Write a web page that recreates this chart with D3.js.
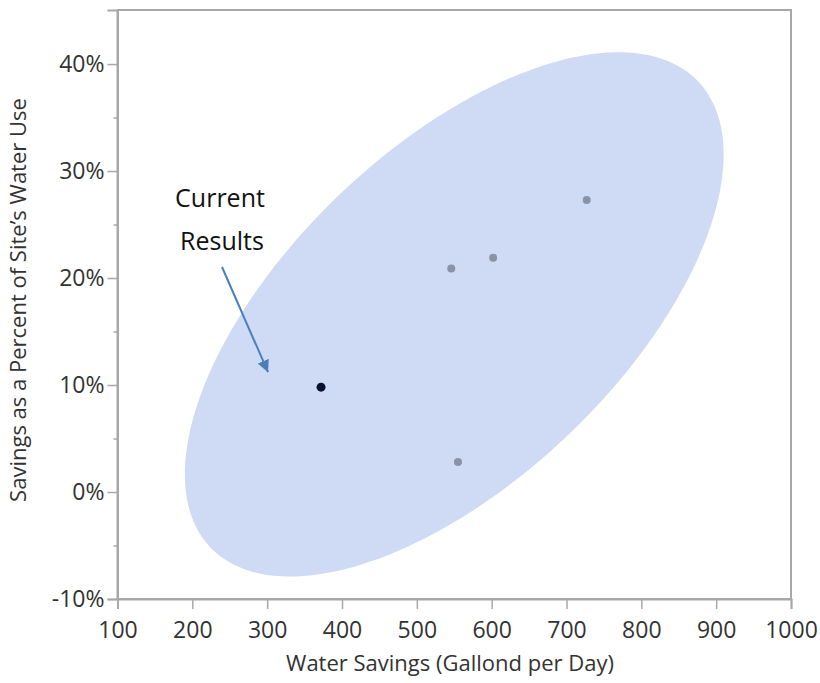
<!DOCTYPE html>
<html>
<head>
<meta charset="utf-8">
<script src="https://cdn.jsdelivr.net/npm/d3@7"></script>
<style>
  body { margin: 0; background: #fff; }
  .tick text { font-family: "Open Sans", sans-serif; font-size: 23px; fill: #333; }
  .title { font-family: "Open Sans", sans-serif; font-size: 22px; fill: #333; }
  .note { font-family: "Open Sans", sans-serif; font-size: 25px; fill: #111; }
</style>
</head>
<body>
<div id="chart"></div>
<script>
// sites: water savings (gallons/day) and savings as share of site's water use
const savings = [372, 546, 602, 727, 555];
const percent = [0.098, 0.209, 0.219, 0.273, 0.028];
const isCurrent = [true, false, false, false, false];

// density ellipse: center, spread along each axis, correlation
const ellipseCenter = [550, 0.166];
const ellipseSpread = [360, 0.245];
const ellipseCorr = 0.61;

const xTicks = [100, 200, 300, 400, 500, 600, 700, 800, 900, 1000];
const yTicks = [-0.1, 0, 0.1, 0.2, 0.3, 0.4];
const yMinorTicks = [-0.05, 0.05, 0.15, 0.25, 0.35];

const width = 820, height = 683;
const plotLeft = 117.5, plotRight = 791, plotTop = 10, plotBottom = 599;

const svg = d3.select("#chart").append("svg")
  .attr("width", width)
  .attr("height", height);

const x = d3.scaleLinear().domain([100, 1000]).range([plotLeft, plotRight]);
const y = d3.scaleLinear().domain([-0.1, 0.4505]).range([plotBottom, plotTop]);

// ellipse outline from its parameters
const phi = Math.acos(ellipseCorr);
const ellipsePts = d3.range(0, 361, 2).map(deg => {
  const t = deg * Math.PI / 180;
  return [
    x(ellipseCenter[0] + ellipseSpread[0] * Math.cos(t)),
    y(ellipseCenter[1] + ellipseSpread[1] * Math.cos(t - phi))
  ];
});

svg.append("path")
  .attr("d", d3.line().curve(d3.curveLinearClosed)(ellipsePts))
  .attr("fill", "#cfdaf5");

// frame
svg.append("rect")
  .attr("x", plotLeft).attr("y", plotTop)
  .attr("width", plotRight - plotLeft).attr("height", plotBottom - plotTop)
  .attr("fill", "none")
  .attr("stroke", "#a8a8a8")
  .attr("stroke-width", 2);

svg.append("g")
  .attr("transform", `translate(0,${plotBottom})`)
  .call(d3.axisBottom(x).tickValues(xTicks).tickSize(10).tickPadding(13).tickFormat(d3.format("d")));

const pct = d => Math.round(d * 100) + "%";
svg.append("g")
  .attr("transform", `translate(${plotLeft},0)`)
  .call(d3.axisLeft(y).tickValues(yTicks).tickSize(10).tickPadding(3).tickFormat(pct));

svg.append("g")
  .attr("transform", `translate(${plotLeft},0)`)
  .call(d3.axisLeft(y).tickValues(yMinorTicks).tickSize(4).tickFormat(""))
  .call(g => g.select(".domain").remove());

svg.selectAll(".domain").attr("stroke", "#a8a8a8").attr("stroke-width", 2);
svg.selectAll(".tick line").attr("stroke", "#a8a8a8").attr("stroke-width", 1.5);

// axis titles
svg.append("text")
  .attr("class", "title")
  .attr("x", 450)
  .attr("y", 671)
  .attr("text-anchor", "middle")
  .text("Water Savings (Gallond per Day)");

svg.append("text")
  .attr("class", "title")
  .attr("transform", `translate(26,300) rotate(-90)`)
  .attr("text-anchor", "middle")
  .text("Savings as a Percent of Site\u2019s Water Use");

// points
const pts = savings.map((v, i) => ({ v, p: percent[i], cur: isCurrent[i] }));
svg.selectAll("circle.pt")
  .data(pts)
  .join("circle")
  .attr("class", "pt")
  .attr("cx", d => x(d.v))
  .attr("cy", d => y(d.p))
  .attr("r", d => d.cur ? 4.5 : 4)
  .attr("fill", d => d.cur ? "#0b1230" : "#8a92a8");

// annotation
const cur = pts.find(d => d.cur);
svg.append("text").attr("class", "note")
  .attr("x", 220).attr("y", 207).attr("text-anchor", "middle").text("Current");
svg.append("text").attr("class", "note")
  .attr("x", 222).attr("y", 250).attr("text-anchor", "middle").text("Results");

svg.append("defs").append("marker")
  .attr("id", "arrow")
  .attr("viewBox", "0 0 10 10")
  .attr("refX", 10).attr("refY", 5)
  .attr("markerWidth", 6).attr("markerHeight", 6)
  .attr("orient", "auto")
  .append("path")
  .attr("d", "M0,0 L10,5 L0,10 z")
  .attr("fill", "#4a7ebb");

svg.append("line")
  .attr("x1", 222).attr("y1", 267)
  .attr("x2", x(cur.v) - 53).attr("y2", y(cur.p) - 15)
  .attr("stroke", "#4a7ebb")
  .attr("stroke-width", 2)
  .attr("marker-end", "url(#arrow)");
</script>
</body>
</html>
